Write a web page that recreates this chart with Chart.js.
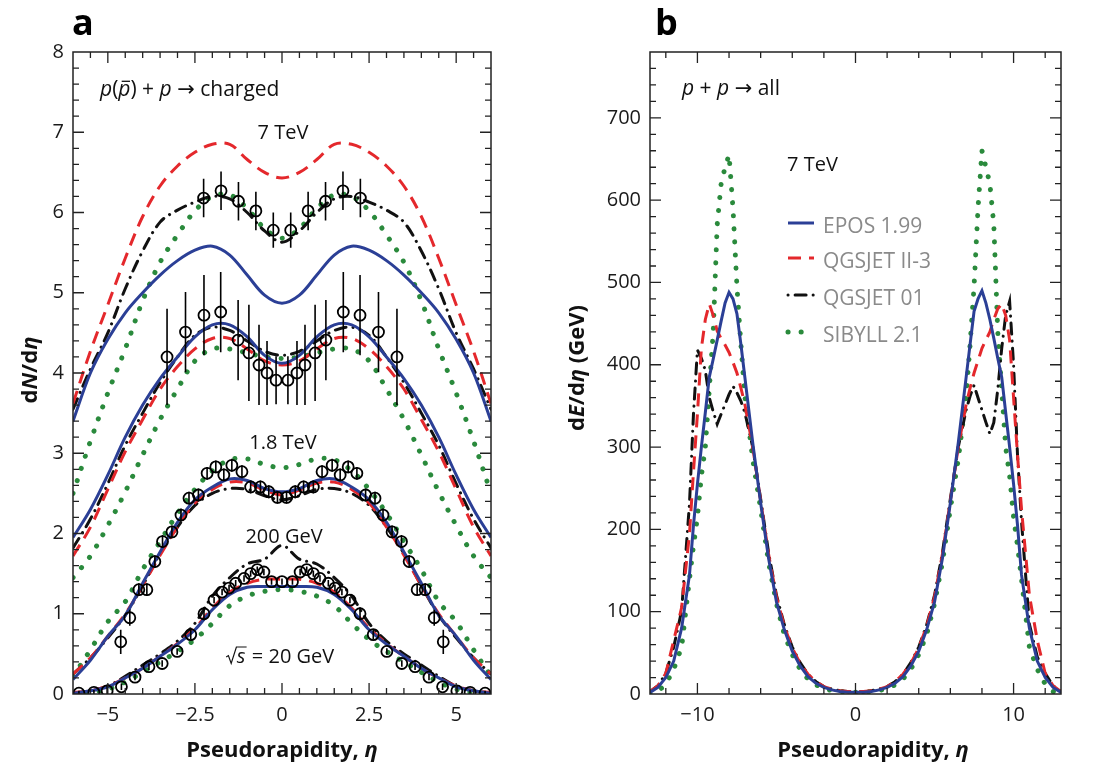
<!DOCTYPE html>
<html><head><meta charset="utf-8">
<script src="https://cdn.jsdelivr.net/npm/chart.js@4.4.1/dist/chart.umd.min.js"></script>
<style>
html,body{margin:0;padding:0;background:#fff;}
#wrap{position:relative;width:1099px;height:766px;overflow:hidden;background:#fff;}
#ca{position:absolute;left:0;top:0;}
#cb{position:absolute;left:545px;top:0;}
</style></head><body>
<div id="wrap"><canvas id="ca" width="545" height="766"></canvas><canvas id="cb" width="554" height="766"></canvas></div>
<script>
// ---------- Panel a : dN/deta ----------
const etaA = [-6,-5.5,-5,-4.5,-4,-3.5,-3,-2.5,-2,-1.5,-1,-0.5,0,0.5,1,1.5,2,2.5,3,3.5,4,4.5,5,5.5,6];

const epos7000   = [3.40,4.00,4.42,4.75,5.00,5.22,5.40,5.53,5.58,5.47,5.22,4.97,4.87,4.97,5.22,5.47,5.58,5.53,5.40,5.22,5.00,4.75,4.42,4.00,3.40];
const qgsII7000  = [3.62,4.27,4.85,5.43,5.95,6.33,6.58,6.75,6.85,6.85,6.66,6.50,6.43,6.50,6.66,6.85,6.85,6.75,6.58,6.33,5.95,5.43,4.85,4.27,3.62];
const qgs01_7000 = [3.55,4.05,4.50,5.05,5.52,5.88,6.03,6.13,6.20,6.17,6.00,5.77,5.63,5.77,6.00,6.17,6.20,6.13,6.03,5.88,5.52,5.05,4.50,4.05,3.55];
const sib7000    = [2.50,3.15,3.75,4.30,4.90,5.38,5.72,6.02,6.20,6.22,6.05,5.80,5.68,5.80,6.05,6.22,6.20,6.02,5.72,5.38,4.90,4.30,3.75,3.15,2.50];

const epos1800   = [1.95,2.30,2.73,3.20,3.60,3.93,4.20,4.45,4.60,4.60,4.45,4.22,4.12,4.22,4.45,4.60,4.60,4.45,4.20,3.93,3.60,3.20,2.73,2.30,1.95];
const qgsII1800  = [1.72,2.08,2.55,3.02,3.42,3.80,4.08,4.30,4.43,4.43,4.30,4.15,4.10,4.15,4.30,4.43,4.43,4.30,4.08,3.80,3.42,3.02,2.55,2.08,1.72];
const qgs01_1800 = [1.82,2.18,2.62,3.10,3.50,3.88,4.20,4.47,4.57,4.53,4.40,4.27,4.22,4.27,4.40,4.53,4.57,4.47,4.20,3.88,3.50,3.10,2.62,2.18,1.82];
const sib1800    = [1.45,1.72,2.10,2.52,2.98,3.42,3.80,4.15,4.30,4.30,4.25,4.20,4.18,4.20,4.25,4.30,4.30,4.15,3.80,3.42,2.98,2.52,2.10,1.72,1.45];

const epos200    = [0.18,0.42,0.72,0.98,1.38,1.77,2.14,2.42,2.58,2.68,2.66,2.56,2.52,2.56,2.66,2.68,2.58,2.42,2.14,1.77,1.38,0.98,0.72,0.42,0.18];
const qgsII200   = [0.25,0.45,0.72,1.00,1.35,1.73,2.08,2.38,2.55,2.64,2.63,2.54,2.48,2.54,2.63,2.64,2.55,2.38,2.08,1.73,1.35,1.00,0.72,0.45,0.25];
const qgs01_200  = [0.25,0.45,0.70,0.98,1.35,1.75,2.08,2.35,2.50,2.56,2.55,2.47,2.42,2.47,2.55,2.56,2.50,2.35,2.08,1.75,1.35,0.98,0.70,0.45,0.25];
const sib200     = [0.22,0.55,0.90,1.15,1.55,1.90,2.25,2.55,2.78,2.92,2.93,2.86,2.82,2.86,2.93,2.92,2.78,2.55,2.25,1.90,1.55,1.15,0.90,0.55,0.22];

const epos20     = [0.01,0.04,0.09,0.20,0.32,0.47,0.62,0.80,1.05,1.24,1.33,1.34,1.34,1.34,1.33,1.24,1.05,0.80,0.62,0.47,0.32,0.20,0.09,0.04,0.01];
const qgsII20    = [0.02,0.04,0.10,0.20,0.32,0.47,0.63,0.82,1.07,1.27,1.38,1.43,1.43,1.43,1.38,1.27,1.07,0.82,0.63,0.47,0.32,0.20,0.10,0.04,0.02];
const qgs01_20   = [0.01,0.04,0.10,0.22,0.36,0.50,0.66,0.88,1.22,1.45,1.62,1.68,1.85,1.68,1.62,1.45,1.22,0.88,0.66,0.50,0.36,0.22,0.10,0.04,0.01];
const sib20      = [0.00,0.02,0.06,0.15,0.27,0.40,0.53,0.68,0.88,1.10,1.22,1.28,1.30,1.28,1.22,1.10,0.88,0.68,0.53,0.40,0.27,0.15,0.06,0.02,0.00];

// measured points (open circles) with errors
const d7000X = [-2.25,-1.75,-1.25,-0.75,-0.25,0.25,0.75,1.25,1.75,2.25];
const d7000Y = [6.18,6.27,6.14,6.02,5.78,5.78,6.02,6.14,6.27,6.18];
const d7000E = [0.24,0.24,0.24,0.24,0.22,0.22,0.24,0.24,0.24,0.24];

const d1800X = [-3.3,-2.77,-2.24,-1.76,-1.26,-0.95,-0.66,-0.43,-0.17,0.17,0.43,0.66,0.95,1.26,1.76,2.24,2.77,3.3];
const d1800Y = [4.20,4.51,4.72,4.76,4.41,4.25,4.10,4.00,3.91,3.91,4.00,4.10,4.25,4.41,4.76,4.72,4.51,4.20];
const d1800E = [0.60,0.50,0.50,0.50,0.50,0.60,0.50,0.40,0.30,0.30,0.40,0.50,0.60,0.50,0.50,0.50,0.50,0.60];

const d200X = [-4.63,-4.37,-4.11,-3.88,-3.65,-3.43,-3.16,-2.9,-2.67,-2.4,-2.15,-1.9,-1.67,-1.44,-1.15,-0.9,-0.62,-0.38,-0.13,0.13,0.38,0.62,0.9,1.15,1.44,1.67,1.9,2.15,2.4,2.67,2.9,3.16,3.43,3.65,3.88,4.11,4.37,4.63];
const d200Y = [0.65,0.95,1.30,1.30,1.65,1.90,2.02,2.23,2.44,2.48,2.75,2.83,2.73,2.85,2.77,2.58,2.58,2.52,2.45,2.45,2.52,2.58,2.58,2.77,2.85,2.73,2.83,2.75,2.48,2.44,2.23,2.02,1.90,1.65,1.30,1.30,0.95,0.65];
const d200E = [0.15,0.10,0.08,0.08,0.08,0.08,0.08,0.08,0.08,0.08,0.08,0.08,0.08,0.08,0.08,0.08,0.08,0.08,0.08,0.08,0.08,0.08,0.08,0.08,0.08,0.08,0.08,0.08,0.08,0.08,0.08,0.08,0.08,0.08,0.08,0.08,0.10,0.15];

const d20X = [-5.83,-5.4,-5.02,-4.61,-4.22,-3.82,-3.44,-3.01,-2.62,-2.24,-1.95,-1.72,-1.52,-1.33,-1.09,-0.9,-0.71,-0.52,-0.3,0,0.3,0.52,0.71,0.9,1.09,1.33,1.52,1.72,1.95,2.24,2.62,3.01,3.44,3.82,4.22,4.61,5.02,5.4,5.83];
const d20Y = [0.01,0.02,0.04,0.09,0.21,0.34,0.38,0.53,0.74,1.00,1.17,1.27,1.32,1.38,1.44,1.50,1.55,1.52,1.40,1.40,1.40,1.52,1.55,1.50,1.44,1.38,1.32,1.27,1.17,1.00,0.74,0.53,0.38,0.34,0.21,0.09,0.04,0.02,0.01];
const d20E = [0.03,0.03,0.06,0.04,0.04,0.04,0.04,0.04,0.06,0.08,0.04,0.04,0.04,0.04,0.04,0.04,0.04,0.04,0.04,0.04,0.04,0.04,0.04,0.04,0.04,0.04,0.04,0.04,0.04,0.08,0.06,0.04,0.04,0.04,0.04,0.04,0.06,0.03,0.03];

const tickXa = [-5,-2.5,0,2.5,5];
const tickYa = [0,1,2,3,4,5,6,7,8];

// ---------- Panel b : dE/deta ----------
const etaB = [-13,-12.5,-12,-11.5,-11,-10.5,-10.25,-10,-9.75,-9.5,-9.25,-9,-8.75,-8.5,-8.25,-8,-7.75,-7.5,-7.25,-7,-6.5,-6,-5.5,-5,-4.5,-4,-3.5,-3,-2.5,-2,-1.5,-1,-0.5,0,
              0.5,1,1.5,2,2.5,3,3.5,4,4.5,5,5.5,6,6.5,7,7.25,7.5,7.75,8,8.25,8.5,8.75,9,9.25,9.5,9.75,10,10.25,10.5,11,11.5,12,12.5,13];
const eposB  = [2,8,20,40,80,145,205,255,300,342,385,407,430,453,475,488,480,462,425,385,305,232,165,112,78,52,34,21,13,8,5,3,2,2,
                2,3,5,8,13,21,34,52,78,112,165,232,305,385,425,465,480,490,475,455,432,408,385,342,300,255,205,145,80,40,20,8,2];
const qgsIIB = [3,10,25,65,105,195,270,340,420,455,474,460,441,432,424,415,403,390,372,352,300,235,170,118,82,56,37,24,15,9,6,4,3,3,
                3,4,6,9,15,24,37,56,82,118,170,235,300,352,372,390,405,420,430,440,455,468,474,460,430,360,290,225,120,65,25,10,3];
const qgs01B = [3,10,25,57,101,232,340,418,408,393,360,343,328,340,352,364,374,366,356,342,300,237,172,120,84,57,38,24,15,9,6,4,3,2,
                2,4,6,9,15,24,38,57,84,120,172,237,300,345,362,375,360,345,330,316,330,370,420,460,477,400,290,210,85,45,25,10,3];
const sibB   = [0,3,12,30,57,140,180,215,265,300,370,440,570,620,640,655,590,495,425,362,285,225,160,110,72,48,30,18,11,7,4,3,2,2,
                2,3,4,7,11,18,30,48,72,110,160,225,285,362,425,495,590,660,640,620,570,440,370,300,265,215,180,140,57,30,12,3,0];

const tickXb = [-10,0,10];
const tickYb = [0,100,200,300,400,500,600,700];

const modelNames = ['EPOS 1.99','QGSJET II-3','QGSJET 01','SIBYLL 2.1'];

// ---------- styles ----------
const FONT = '"Open Sans", "DejaVu Sans", sans-serif';
const C_BLUE = '#2b3f96', C_RED = '#e4282c', C_BLACK = '#111111', C_GREEN = '#2a8a3c';
const styles = [
  {borderColor:C_BLUE, borderWidth:3, borderDash:[], borderCapStyle:'butt'},
  {borderColor:C_RED, borderWidth:3, borderDash:[13,8], borderCapStyle:'butt'},
  {borderColor:C_BLACK, borderWidth:3, borderDash:[11,7,0.1,7], borderCapStyle:'round'},
  {borderColor:C_GREEN, borderWidth:5, borderDash:[0.1,13], borderCapStyle:'round'}
];

function pts(xs, ys){ return xs.map((x,i)=>({x:x, y:ys[i]})); }
function errPts(xs, ys, es){
  const out=[];
  xs.forEach((x,i)=>{ out.push({x:x,y:ys[i]-es[i]}); out.push({x:x,y:ys[i]+es[i]}); out.push({x:x,y:null}); });
  return out;
}
function curve(xs, ys, k, smooth){
  return Object.assign({type:'line', data:pts(xs,ys), pointRadius:0, fill:false,
    tension: smooth?0.35:0}, styles[k]);
}
function circles(xs, ys){
  return {type:'line', data:pts(xs,ys), showLine:false, pointRadius:5.5, pointBorderWidth:1.8,
    pointBorderColor:'#000', pointBackgroundColor:'rgba(0,0,0,0)', borderColor:'#000'};
}
function ebars(xs, ys, es){
  return {type:'line', data:errPts(xs,ys,es), borderColor:'#000', borderWidth:1.6, pointRadius:0, spanGaps:false, tension:0};
}

function fnt(st, size){
  return (st.includes('i')?'italic ':'') + (st.includes('b')?'bold ':'') + size + 'px ' + FONT;
}
function richWidth(ctx, parts, size){
  let w=0;
  for(const p of parts){
    ctx.font = fnt(p.s||'', size);
    const tw = ctx.measureText(p.t).width;
    w += p.sqrt ? size*0.55 + tw + size*0.06 : tw;
  }
  return w;
}
function drawRich(ctx, parts, x, y, size, align, color){
  const w = richWidth(ctx, parts, size);
  let cx = align==='center' ? x-w/2 : (align==='right' ? x-w : x);
  ctx.textAlign='left'; ctx.textBaseline='alphabetic';
  ctx.fillStyle=color; ctx.strokeStyle=color;
  for(const p of parts){
    ctx.font = fnt(p.s||'', size);
    const tw = ctx.measureText(p.t).width;
    if(p.sqrt){
      const rw = size*0.55;
      ctx.beginPath(); ctx.lineWidth = size*0.06; ctx.setLineDash([]);
      ctx.moveTo(cx+size*0.02, y-size*0.30);
      ctx.lineTo(cx+size*0.13, y-size*0.37);
      ctx.lineTo(cx+size*0.27, y+size*0.02);
      ctx.lineTo(cx+rw-size*0.02, y-size*0.80);
      ctx.lineTo(cx+rw+tw+size*0.06, y-size*0.80);
      ctx.stroke();
      ctx.fillText(p.t, cx+rw, y);
      cx += rw+tw+size*0.06;
      continue;
    }
    ctx.fillText(p.t, cx, y);
    if(p.bar){
      ctx.beginPath(); ctx.lineWidth=1.3; ctx.setLineDash([]);
      ctx.moveTo(cx+size*0.16, y-size*0.70); ctx.lineTo(cx+tw-size*0.02, y-size*0.70); ctx.stroke();
    }
    cx += tw;
  }
}

function fmt(v){ return (v<0?'\u2212':'') + String(Math.abs(v)); }

function framePlugin(cfg){
  return {id:'frame_'+cfg.id, afterDraw(chart){
    const ctx = chart.ctx, a = chart.chartArea, xs = chart.scales.x, ys = chart.scales.y;
    ctx.save();
    ctx.setLineDash([]);
    ctx.strokeStyle='#222'; ctx.lineWidth=1.5;
    ctx.strokeRect(a.left, a.top, a.right-a.left, a.bottom-a.top);
    ctx.lineWidth=1.3; ctx.beginPath();
    const isMaj = (v, list) => list.some(m => Math.abs(m-v) < 1e-6);
    for(let v=cfg.xMin; v<=cfg.xMax+1e-9; v+=cfg.xStep){
      const vv = Math.round(v*1000)/1000;
      const px = xs.getPixelForValue(vv);
      if(px < a.left+2 || px > a.right-2) continue;
      const len = isMaj(vv, cfg.xMaj) ? 11 : 6;
      ctx.moveTo(px, a.bottom); ctx.lineTo(px, a.bottom-len);
      ctx.moveTo(px, a.top); ctx.lineTo(px, a.top+len);
    }
    for(let v=cfg.yMin; v<=cfg.yMax+1e-9; v+=cfg.yStep){
      const vv = Math.round(v*1000)/1000;
      const py = ys.getPixelForValue(vv);
      if(py < a.top+2 || py > a.bottom-2) continue;
      const len = isMaj(vv, cfg.yMaj) ? 11 : 6;
      ctx.moveTo(a.left, py); ctx.lineTo(a.left+len, py);
      ctx.moveTo(a.right, py); ctx.lineTo(a.right-len, py);
    }
    ctx.stroke();
    cfg.draw(ctx, chart);
    ctx.restore();
  }};
}

function baseOptions(xMin,xMax,yMin,yMax,xTicks,yTicks,yWidth,padRight){
  return {
    responsive:false, animation:false, devicePixelRatio:1,
    layout:{padding:{top:52,right:padRight,left:0,bottom:0}},
    plugins:{legend:{display:false}, tooltip:{enabled:false}},
    scales:{
      x:{type:'linear', min:xMin, max:xMax,
         afterBuildTicks:(ax)=>{ ax.ticks = xTicks.map(v=>({value:v})); },
         afterFit:(ax)=>{ ax.height = 72; },
         grid:{display:false, drawTicks:false}, border:{display:false},
         ticks:{autoSkip:false, maxRotation:0, padding:9, color:'#1a1a1a', font:{family:FONT, size:20}, callback:(v)=>fmt(v)}},
      y:{type:'linear', min:yMin, max:yMax,
         afterBuildTicks:(ax)=>{ ax.ticks = yTicks.map(v=>({value:v})); },
         afterFit:(ax)=>{ ax.width = yWidth; },
         grid:{display:false, drawTicks:false}, border:{display:false},
         ticks:{autoSkip:false, padding:9, color:'#1a1a1a', font:{family:FONT, size:20}, callback:(v)=>fmt(v)}}
    }
  };
}

// ---------- Chart a ----------
const groupsA = [
  [epos7000, qgsII7000, qgs01_7000, sib7000],
  [epos1800, qgsII1800, qgs01_1800, sib1800],
  [epos200, qgsII200, qgs01_200, sib200],
  [epos20, qgsII20, qgs01_20, sib20]
];
const dsA = [
  ebars(d7000X,d7000Y,d7000E), circles(d7000X,d7000Y),
  ebars(d1800X,d1800Y,d1800E), circles(d1800X,d1800Y),
  ebars(d200X,d200Y,d200E), circles(d200X,d200Y),
  ebars(d20X,d20Y,d20E), circles(d20X,d20Y)
];
[0,1,2,3].forEach(k=>{ groupsA.forEach(g=>{ dsA.push(curve(etaA, g[k], k, true)); }); });

const optA = baseOptions(-6,6,0,8,tickXa,tickYa,73,54);
new Chart(document.getElementById('ca'), {
  type:'line', data:{datasets:dsA}, options:optA,
  plugins:[framePlugin({id:'a', xMin:-6, xMax:6, xStep:0.5, xMaj:tickXa, yMin:0, yMax:8, yStep:0.2, yMaj:tickYa,
    draw:(ctx)=>{
      ctx.font = fnt('b',36); ctx.fillStyle='#000'; ctx.textAlign='left'; ctx.textBaseline='alphabetic';
      ctx.fillText('a', 72, 35);
      drawRich(ctx, [{t:'p',s:'i'},{t:'(',s:''},{t:'p',s:'i',bar:true},{t:')',s:''},{t:' + ',s:''},{t:'p',s:'i'},{t:' \u2192 ',s:''},{t:'charged',s:''}], 100, 96, 21, 'left', '#111');
      drawRich(ctx, [{t:'7 TeV',s:''}], 283, 139, 20, 'center', '#111');
      drawRich(ctx, [{t:'1.8 TeV',s:''}], 283, 449, 20, 'center', '#111');
      drawRich(ctx, [{t:'200 GeV',s:''}], 284, 543, 20, 'center', '#111');
      drawRich(ctx, [{t:'s',s:'i',sqrt:true},{t:' = 20 GeV',s:''}], 280, 663, 20, 'center', '#111');
      drawRich(ctx, [{t:'Pseudorapidity, ',s:'b'},{t:'\u03b7',s:'bi'}], 282, 757, 22, 'center', '#111');
      ctx.save(); ctx.translate(37, 370); ctx.rotate(-Math.PI/2);
      drawRich(ctx, [{t:'d',s:'b'},{t:'N',s:'bi'},{t:'/d',s:'b'},{t:'\u03b7',s:'bi'}], 0, 0, 22, 'center', '#111');
      ctx.restore();
    }})]
});

// ---------- Chart b ----------
const modelB = [eposB, qgsIIB, qgs01B, sibB];
const dsB = modelB.map((arr,k)=>curve(etaB, arr, k, false));
const optB = baseOptions(-13,13,0,780,tickXb,tickYb,105,38);
new Chart(document.getElementById('cb'), {
  type:'line', data:{datasets:dsB}, options:optB,
  plugins:[framePlugin({id:'b', xMin:-12, xMax:12, xStep:2, xMaj:tickXb, yMin:0, yMax:780, yStep:20, yMaj:tickYb,
    draw:(ctx, chart)=>{
      ctx.font = fnt('b',36); ctx.fillStyle='#000'; ctx.textAlign='left'; ctx.textBaseline='alphabetic';
      ctx.fillText('b', 110, 35);
      drawRich(ctx, [{t:'p',s:'i'},{t:' + ',s:''},{t:'p',s:'i'},{t:' \u2192 all',s:''}], 137, 95, 21, 'left', '#111');
      drawRich(ctx, [{t:'7 TeV',s:''}], 242, 171, 20, 'left', '#111');
      const rows = [223, 258, 295, 332];
      const offs = [0, 0, 18, 0];
      modelNames.forEach((nm,k)=>{
        const st = styles[k];
        ctx.save();
        ctx.beginPath(); ctx.strokeStyle = st.borderColor; ctx.lineWidth = st.borderWidth;
        ctx.lineCap = st.borderCapStyle; ctx.setLineDash(st.borderDash); ctx.lineDashOffset = offs[k];
        ctx.moveTo(243, rows[k]); ctx.lineTo(269, rows[k]); ctx.stroke();
        ctx.restore();
        drawRich(ctx, [{t:nm,s:''}], 278, rows[k]+10, 21, 'left', '#8a8a8a');
      });
      drawRich(ctx, [{t:'Pseudorapidity, ',s:'b'},{t:'\u03b7',s:'bi'}], 328, 757, 22, 'center', '#111');
      ctx.save(); ctx.translate(39, 368); ctx.rotate(-Math.PI/2);
      drawRich(ctx, [{t:'d',s:'b'},{t:'E',s:'bi'},{t:'/d',s:'b'},{t:'\u03b7',s:'bi'},{t:' (GeV)',s:'b'}], 0, 0, 22, 'center', '#111');
      ctx.restore();
    }})]
});
</script></body></html>
